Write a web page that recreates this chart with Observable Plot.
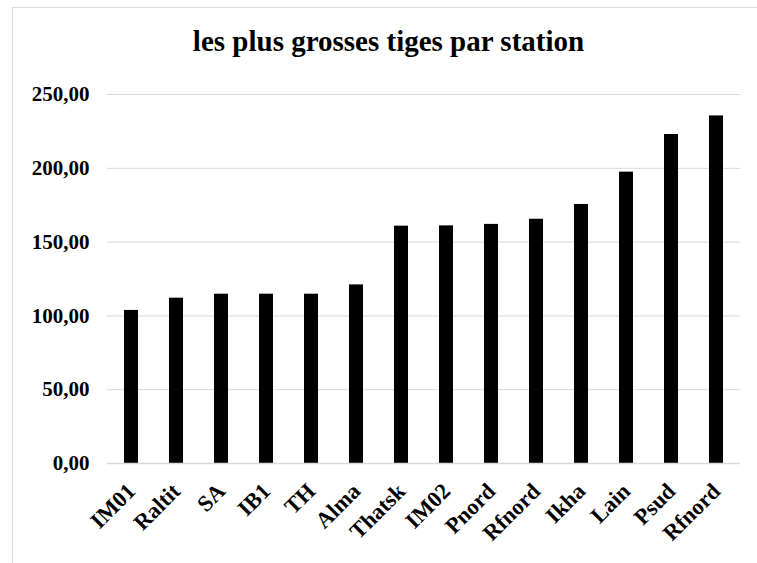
<!DOCTYPE html>
<html>
<head>
<meta charset="utf-8">
<script src="https://cdn.jsdelivr.net/npm/d3@7"></script>
<script src="https://cdn.jsdelivr.net/npm/@observablehq/plot@0.6"></script>
<style>
  html, body { margin: 0; padding: 0; background: #fff; overflow: hidden; }
  #frame { position: absolute; left: 12px; top: 7px; width: 800px; height: 600px; border: 1px solid #d9d9d9; box-sizing: border-box; }
  #chart { position: absolute; left: 0; top: 0; width: 757px; }
  #title { height: 43px; padding-top: 27px; padding-left: 20px; text-align: center;
           font-family: "Liberation Serif", "Times New Roman", serif; font-weight: bold;
           font-size: 29px; line-height: 29px; color: #000; }
  svg { display: block; overflow: visible; }
  svg text { font-family: "Liberation Serif", "Times New Roman", serif !important; font-weight: bold; }
</style>
</head>
<body>
<div id="frame"></div>
<div id="chart"><div id="title">les plus grosses tiges par station</div></div>
<script>
const stations = ["IM01","Raltit","SA","IB1","TH","Alma","Thatsk","IM02","Pnord","Rfnord","Ikha","Lain","Psud","Rfnord"];
const values = [103.7, 112.0, 114.7, 114.7, 114.7, 121.0, 160.8, 161.0, 162.0, 165.5, 175.5, 197.4, 222.9, 235.5];
const yTicks = [0, 50, 100, 150, 200, 250];

const data = stations.map((s, i) => ({key: String(i), station: s, value: values[i]}));
const font = '"Liberation Serif", "Times New Roman", serif';

const chart = Plot.plot({
  width: 757,
  height: 493,
  marginLeft: 107,
  marginRight: 17,
  marginTop: 24,
  marginBottom: 100,
  style: {fontFamily: font, fontWeight: "bold", fontSize: "21px", color: "#000", background: "transparent"},
  x: {type: "band", domain: data.map(d => d.key), paddingInner: 0.68, paddingOuter: 0.34, label: null},
  y: {domain: [0, 250], label: null},
  marks: [
    Plot.gridY(yTicks, {stroke: "#d9d9d9", strokeOpacity: 1, strokeWidth: 1}),
    Plot.barY(data, {x: "key", y: "value", fill: "#000"}),
    Plot.ruleY([0], {stroke: "#d9d9d9", strokeWidth: 1.5}),
    Plot.axisY(yTicks, {tickSize: 0, tickPadding: 18, tickFormat: d => d.toFixed(2).replace(".", ","), fontSize: 21, fontWeight: "bold", fontFamily: font, label: null}),
    Plot.axisX({tickSize: 0, tickPadding: 24, tickRotate: -45, tickFormat: k => stations[+k], fontSize: 22.5, fontWeight: "bold", fontFamily: font, label: null})
  ]
});
document.getElementById("chart").appendChild(chart);
</script>
</body>
</html>
